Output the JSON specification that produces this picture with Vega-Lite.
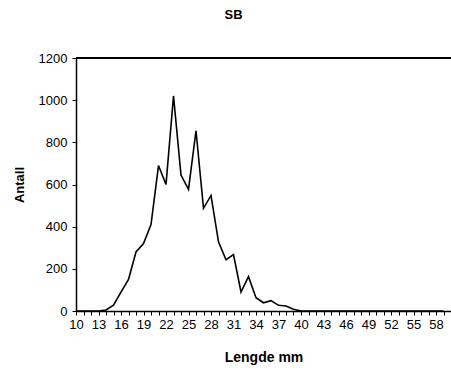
{
  "$schema": "https://vega.github.io/schema/vega-lite/v6.json",
  "width": 375,
  "height": 253,
  "autosize": "none",
  "padding": {"left": 76, "top": 58, "right": 0, "bottom": 62},
  "background": "white",
  "title": {"text": "SB", "font": "Liberation Sans", "fontSize": 13, "fontWeight": "bold", "color": "black", "anchor": "middle", "frame": "group", "dx": -30, "offset": 30},
  "config": {"view": {"stroke": null}},
  "data": {"values": [
    {"mm": 10, "antall": 0}, {"mm": 11, "antall": 0}, {"mm": 12, "antall": 0}, {"mm": 13, "antall": 0},
    {"mm": 14, "antall": 5}, {"mm": 15, "antall": 28}, {"mm": 16, "antall": 90}, {"mm": 17, "antall": 150},
    {"mm": 18, "antall": 280}, {"mm": 19, "antall": 320}, {"mm": 20, "antall": 410}, {"mm": 21, "antall": 690},
    {"mm": 22, "antall": 600}, {"mm": 23, "antall": 1020}, {"mm": 24, "antall": 645}, {"mm": 25, "antall": 577},
    {"mm": 26, "antall": 855}, {"mm": 27, "antall": 487}, {"mm": 28, "antall": 548}, {"mm": 29, "antall": 328},
    {"mm": 30, "antall": 243}, {"mm": 31, "antall": 267}, {"mm": 32, "antall": 90}, {"mm": 33, "antall": 163},
    {"mm": 34, "antall": 63}, {"mm": 35, "antall": 39}, {"mm": 36, "antall": 49}, {"mm": 37, "antall": 27},
    {"mm": 38, "antall": 24}, {"mm": 39, "antall": 8}, {"mm": 40, "antall": 0}, {"mm": 41, "antall": 0},
    {"mm": 42, "antall": 0}, {"mm": 43, "antall": 0}, {"mm": 44, "antall": 0}, {"mm": 45, "antall": 0},
    {"mm": 46, "antall": 0}, {"mm": 47, "antall": 0}, {"mm": 48, "antall": 0}, {"mm": 49, "antall": 0},
    {"mm": 50, "antall": 0}, {"mm": 51, "antall": 0}, {"mm": 52, "antall": 0}, {"mm": 53, "antall": 0},
    {"mm": 54, "antall": 0}, {"mm": 55, "antall": 0}, {"mm": 56, "antall": 0}, {"mm": 57, "antall": 0},
    {"mm": 58, "antall": 0}, {"mm": 59, "antall": 0}
  ]},
  "layer": [
    {
      "mark": {"type": "rule", "color": "black", "strokeWidth": 1},
      "encoding": {"y": {"datum": 1200, "type": "quantitative"}}
    },
    {
      "mark": {"type": "line", "color": "black", "strokeWidth": 1.6},
      "encoding": {
        "x": {
          "field": "mm", "type": "quantitative",
          "scale": {"domain": [10, 60], "nice": false, "zero": false},
          "axis": {
            "title": "Lengde mm",
            "values": [10,11,12,13,14,15,16,17,18,19,20,21,22,23,24,25,26,27,28,29,30,31,32,33,34,35,36,37,38,39,40,41,42,43,44,45,46,47,48,49,50,51,52,53,54,55,56,57,58,59],
            "labelExpr": "(datum.value - 10) % 3 == 0 ? datum.label : ''",
            "grid": false,
            "domainColor": "black", "domainWidth": 1.5,
            "tickColor": "black", "tickSize": 4, "tickWidth": 1,
            "labelFont": "Liberation Sans", "labelFontSize": 13, "labelColor": "black", "labelPadding": 3,
            "labelOverlap": false, "labelFlush": false,
            "titleFont": "Liberation Sans", "titleFontSize": 14, "titleFontWeight": "bold", "titleColor": "black", "titlePadding": 19
          }
        },
        "y": {
          "field": "antall", "type": "quantitative",
          "scale": {"domain": [0, 1200], "nice": false},
          "axis": {
            "title": "Antall",
            "format": "d",
            "values": [0, 200, 400, 600, 800, 1000, 1200],
            "grid": false,
            "domainColor": "black", "domainWidth": 1.5,
            "tickColor": "black", "tickSize": 4, "tickWidth": 1,
            "labelFont": "Liberation Sans", "labelFontSize": 13, "labelColor": "black", "labelPadding": 5,
            "titleFont": "Liberation Sans", "titleFontSize": 13, "titleFontWeight": "bold", "titleColor": "black", "titlePadding": 12
          }
        }
      }
    }
  ]
}
